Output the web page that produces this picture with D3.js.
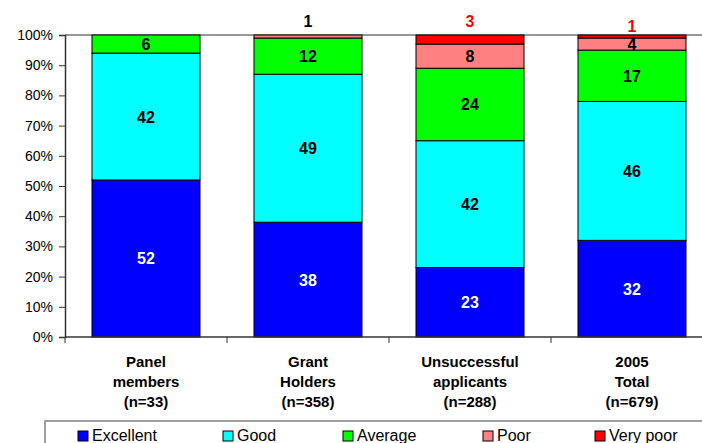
<!DOCTYPE html>
<html>
<head>
<meta charset="utf-8">
<script src="https://cdn.jsdelivr.net/npm/d3@7"></script>
<style>
  body { margin: 0; background: #fff; }
  svg { display: block; font-family: 'Liberation Sans', Arial, sans-serif; }
</style>
</head>
<body>
<svg id="chart"></svg>
<script>
'use strict';

// categories (multi-line labels)
var categories = ['Panel members', 'Grant Holders', 'Unsuccessful applicants', '2005 Total']
var categoryLines = [
  ['Panel', 'members', '(n=33)'],
  ['Grant', 'Holders', '(n=358)'],
  ['Unsuccessful', 'applicants', '(n=288)'],
  ['2005', 'Total', '(n=679)']
]
var seriesNames = ['Excellent', 'Good', 'Average', 'Poor', 'Very poor']
var excellent = [52, 38, 23, 32]
var good = [42, 49, 42, 46]
var average = [6, 12, 24, 17]
var poor = [0, 1, 8, 4]
var veryPoor = [0, 0, 3, 1]
var yTicks = [0, 10, 20, 30, 40, 50, 60, 70, 80, 90, 100]

var colors = ['#0000ff', '#00ffff', '#00ff00', '#ff8080', '#ff0000']
var labelColors = ['#ffffff', '#000000', '#000000', '#000000', '#ff0000']

var width = 702, height = 443
var margin = { left: 65, top: 35, right: -11, bottom: 106 }
var plotRight = width - margin.right
var plotBottom = height - margin.bottom

var svg = d3.select('#chart')
  .attr('width', width)
  .attr('height', height)

var table = categories.map(function(c, i) {
  return {
    cat: c,
    Excellent: excellent[i],
    Good: good[i],
    Average: average[i],
    Poor: poor[i],
    'Very poor': veryPoor[i]
  }
})

var stack = d3.stack().keys(seriesNames)
var layers = stack(table)

var x = d3.scaleBand()
  .domain(categories)
  .range([margin.left, plotRight])
  .paddingInner(1 / 3)
  .paddingOuter(1 / 6)

var y = d3.scaleLinear()
  .domain([0, 100])
  .range([plotBottom, margin.top])

// top border of plot area
svg.append('line')
  .attr('x1', margin.left).attr('x2', plotRight)
  .attr('y1', y(100)).attr('y2', y(100))
  .attr('stroke', '#333').attr('stroke-width', 1)

// bars
var layerG = svg.selectAll('g.layer')
  .data(layers)
  .enter().append('g')
  .attr('class', 'layer')
  .attr('fill', function(d, i) { return colors[i] })

layerG.selectAll('rect')
  .data(function(d) { return d })
  .enter().append('rect')
  .filter(function(d) { return d[1] - d[0] > 0 })
  .attr('x', function(d) { return x(d.data.cat) })
  .attr('width', x.bandwidth())
  .attr('y', function(d) { return y(d[1]) })
  .attr('height', function(d) { return y(d[0]) - y(d[1]) })
  .attr('stroke', '#000')
  .attr('stroke-width', 1)

// value labels (small segments go above the bar)
layers.forEach(function(layer, si) {
  layer.forEach(function(d) {
    var v = d[1] - d[0]
    if (v <= 0) return
    var cx = x(d.data.cat) + x.bandwidth() / 2
    var ty
    if (v >= 4) {
      ty = y((d[0] + d[1]) / 2) + 6
    } else {
      ty = si === 4 && d.data.cat === '2005 Total' ? 32 : 27
    }
    svg.append('text')
      .attr('x', cx)
      .attr('y', ty)
      .attr('text-anchor', 'middle')
      .attr('font-size', 16)
      .attr('font-weight', 'bold')
      .attr('fill', labelColors[si])
      .text(v)
  })
})

// y axis
var yAxis = d3.axisLeft(y)
  .tickValues(yTicks)
  .tickSize(6)
  .tickFormat(function(d) { return d + '%' })

var yAxisG = svg.append('g')
  .attr('transform', 'translate(' + margin.left + ',0)')
  .call(yAxis)
yAxisG.select('.domain').attr('stroke', '#333').attr('stroke-width', 1.5)
yAxisG.selectAll('.tick line').attr('stroke', '#333')
yAxisG.selectAll('.tick text')
  .attr('font-size', 14)
  .attr('font-family', "'Liberation Sans', Arial, sans-serif")
  .attr('fill', '#000')
  .attr('x', -12)

// x axis line + ticks at category boundaries
svg.append('line')
  .attr('x1', margin.left).attr('x2', plotRight)
  .attr('y1', plotBottom).attr('y2', plotBottom)
  .attr('stroke', '#333').attr('stroke-width', 1.5)

var gap = x.step() - x.bandwidth()
categories.forEach(function(c) {
  var bx = x(c) - gap / 2
  svg.append('line')
    .attr('x1', bx).attr('x2', bx)
    .attr('y1', plotBottom).attr('y2', plotBottom + 6)
    .attr('stroke', '#333')
})

// category labels
categoryLines.forEach(function(lines, i) {
  var cx = x(categories[i]) + x.bandwidth() / 2
  var t = svg.append('text')
    .attr('text-anchor', 'middle')
    .attr('font-size', 15)
    .attr('font-weight', 'bold')
  lines.forEach(function(l, j) {
    t.append('tspan')
      .attr('x', cx)
      .attr('y', 367 + j * 20)
      .text(l)
  })
})

// legend
svg.append('rect')
  .attr('x', 45).attr('y', 421)
  .attr('width', 700).attr('height', 60)
  .attr('fill', 'none')
  .attr('stroke', '#808080')
  .attr('stroke-width', 1.5)

var legendX = [78, 223, 343, 483, 595]
seriesNames.forEach(function(s, i) {
  svg.append('rect')
    .attr('x', legendX[i]).attr('y', 431)
    .attr('width', 10).attr('height', 10)
    .attr('fill', colors[i])
    .attr('stroke', '#000')
  svg.append('text')
    .attr('x', legendX[i] + 14)
    .attr('y', 441)
    .attr('font-size', 16)
    .text(s)
})
</script>
</body>
</html>
